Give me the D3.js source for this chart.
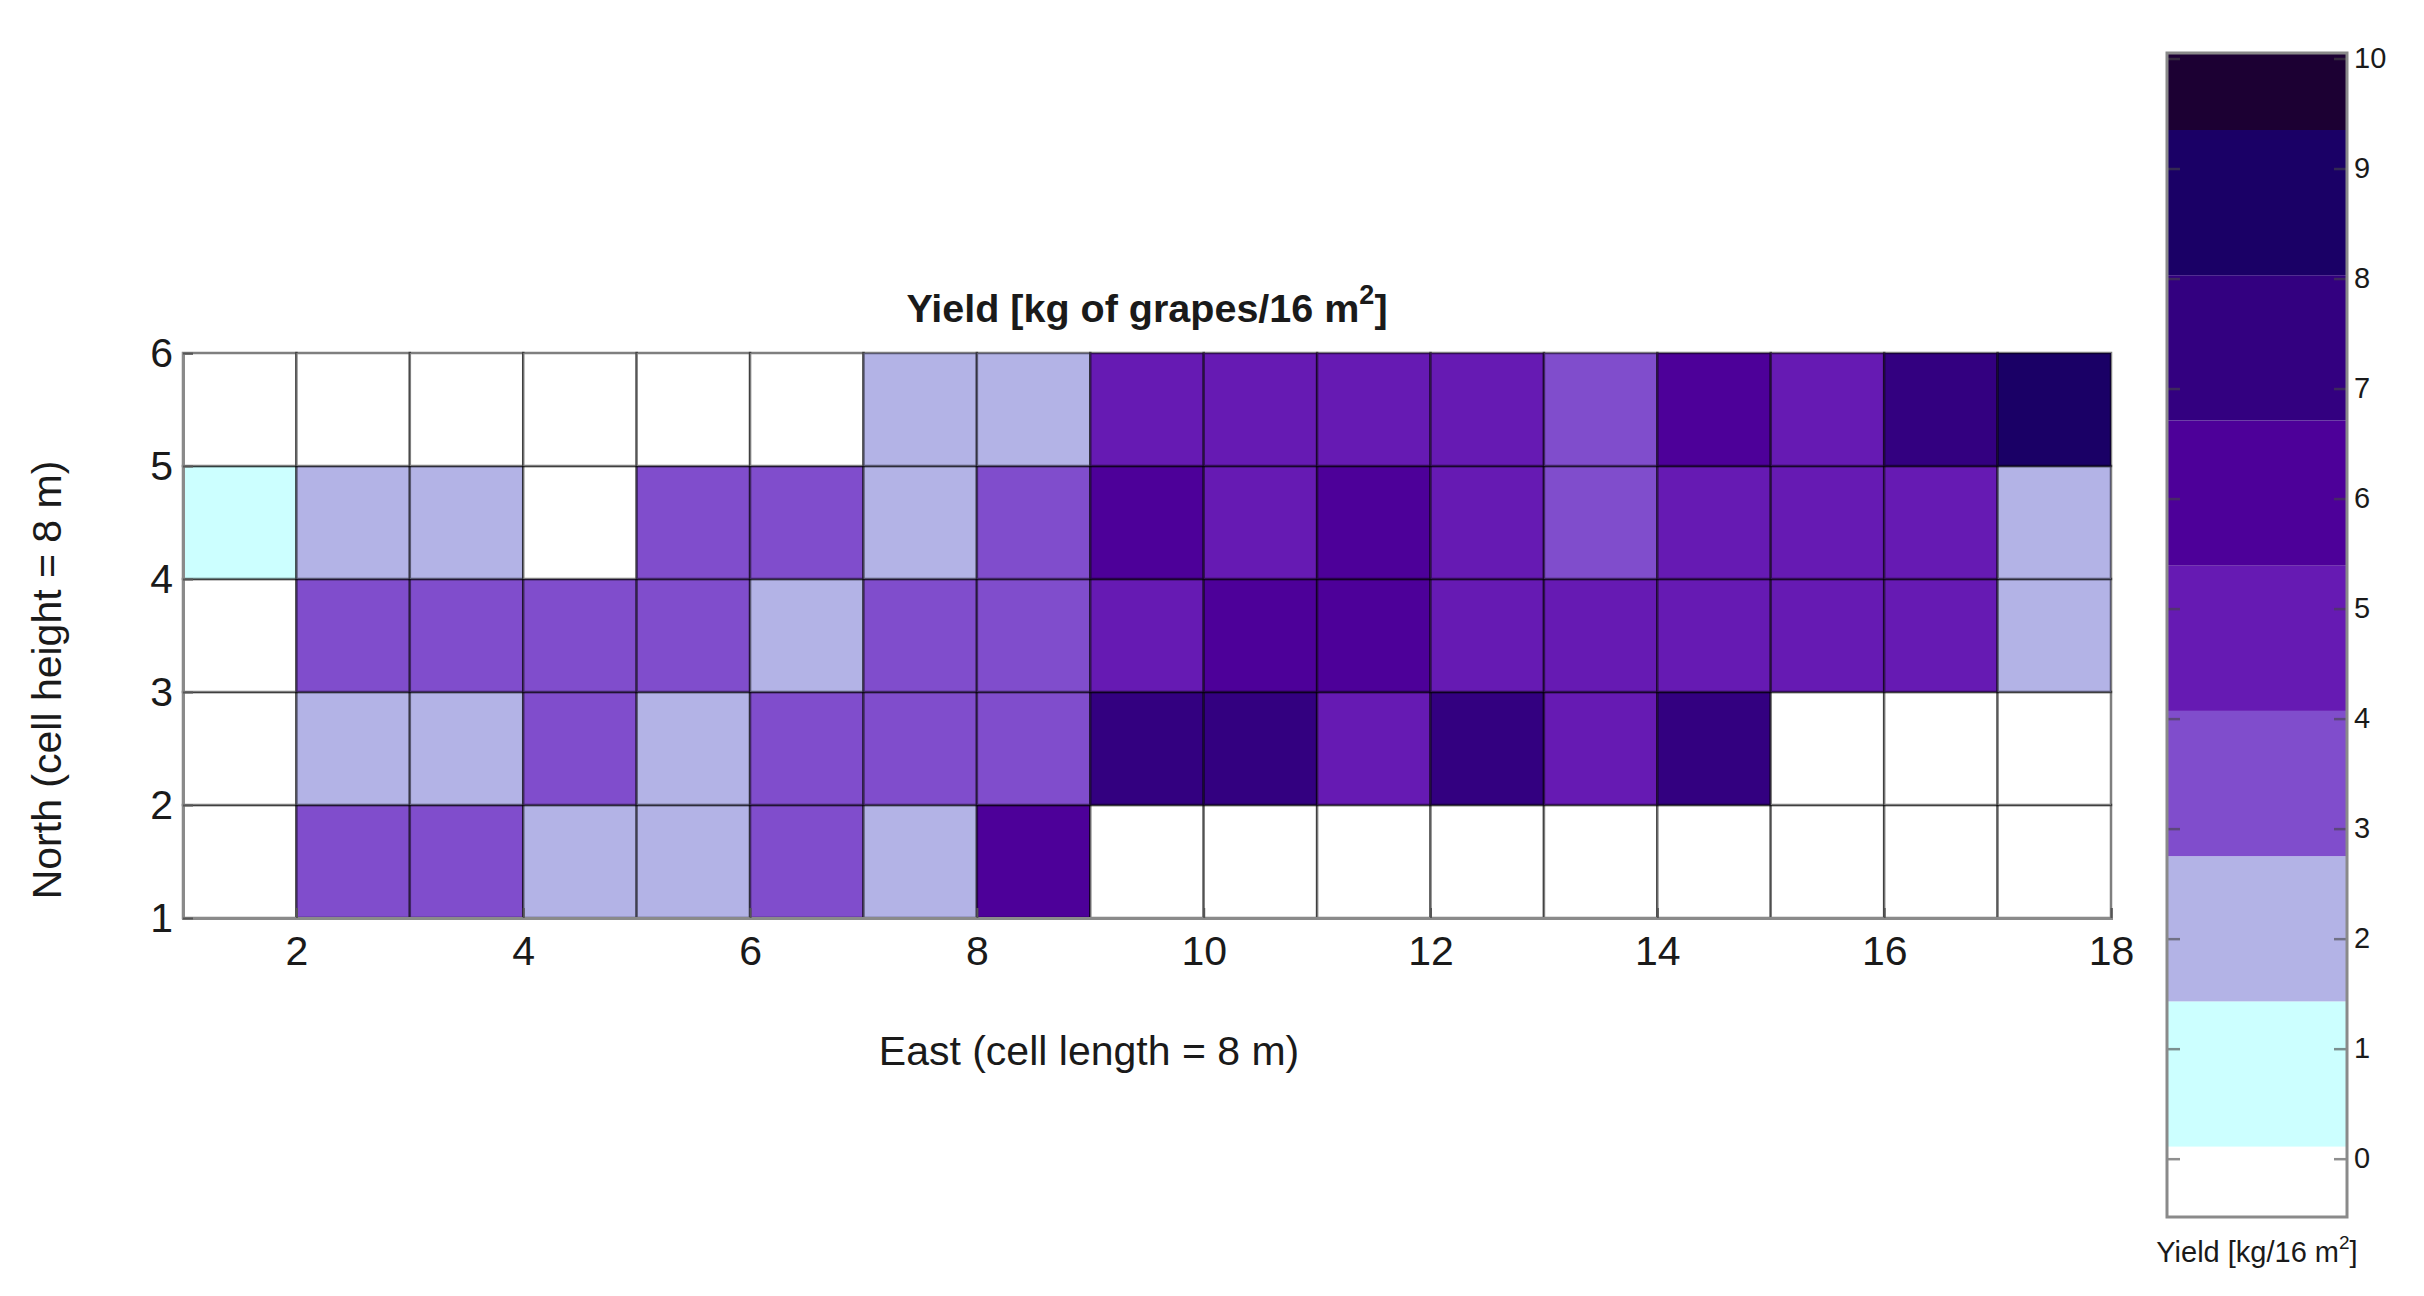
<!DOCTYPE html>
<html>
<head>
<meta charset="utf-8">
<script src="https://cdn.jsdelivr.net/npm/d3@7"></script>
<style>
  html, body { margin: 0; padding: 0; background: #ffffff; }
  svg { display: block; }
  text { font-family: "Liberation Sans", Arial, Helvetica, sans-serif; fill: #1a1a1a; }
</style>
</head>
<body>
<svg id="chart" width="2424" height="1296"></svg>
<script>
// ---------- data ----------
// East coordinate of each cell's left edge (cells span x .. x+1)
const eastCells = [1, 2, 3, 4, 5, 6, 7, 8, 9, 10, 11, 12, 13, 14, 15, 16, 17];
// North coordinate of each row's lower edge (rows span y .. y+1)
const northRows = [1, 2, 3, 4, 5];
// Yield per cell [kg of grapes / 16 m²], one array per row (south to north)
const yieldRow1 = [0, 3.4, 3.4, 2, 2, 3.4, 2, 6, 0, 0, 0, 0, 0, 0, 0, 0, 0];
const yieldRow2 = [0, 2, 2, 3.4, 2, 3.4, 3.4, 3.4, 7.4, 7.4, 4.7, 7.4, 4.7, 7.4, 0, 0, 0];
const yieldRow3 = [0, 3.4, 3.4, 3.4, 3.4, 2, 3.4, 3.4, 4.7, 6, 6, 4.7, 4.7, 4.7, 4.7, 4.7, 2];
const yieldRow4 = [1, 2, 2, 0, 3.4, 3.4, 2, 3.4, 6, 4.7, 6, 4.7, 3.4, 4.7, 4.7, 4.7, 2];
const yieldRow5 = [0, 0, 0, 0, 0, 0, 2, 2, 4.7, 4.7, 4.7, 4.7, 3.4, 6, 4.7, 7.4, 8.7];
const yieldRows = [yieldRow1, yieldRow2, yieldRow3, yieldRow4, yieldRow5];

// colour classes (colormap band edges) and colours
const bandEdges = [0.11, 1.43, 2.75, 4.07, 5.39, 6.71, 8.03, 9.35];
const bandColors = ["#ffffff", "#ccffff", "#b3b3e6", "#804dcc", "#661ab3", "#4d0099", "#330080", "#1a0066", "#1c0033"];

// tick labels
const xTicks = [2, 4, 6, 8, 10, 12, 14, 16, 18];
const yTicks = [1, 2, 3, 4, 5, 6];
const cbTicks = [0, 1, 2, 3, 4, 5, 6, 7, 8, 9, 10];

const titleText = "Yield [kg of grapes/16 m";
const xLabelText = "East (cell length = 8 m)";
const yLabelText = "North (cell height = 8 m)";
const cbLabelText = "Yield [kg/16 m";

// ---------- layout ----------
const svg = d3.select("#chart");
const plot = { left: 183, right: 2111, top: 353, bottom: 918 };
const cb = { left: 2167, right: 2347, top: 53, bottom: 1217 };

const x = d3.scaleLinear().domain([1, 18]).range([plot.left, plot.right]);
const y = d3.scaleLinear().domain([1, 6]).range([plot.bottom, plot.top]);
const color = d3.scaleThreshold().domain(bandEdges).range(bandColors);

// ---------- cells ----------
const cells = [];
northRows.forEach((n, ri) => {
  eastCells.forEach((e, ci) => {
    cells.push({ e: e, n: n, v: yieldRows[ri][ci] });
  });
});

svg.append("g")
  .selectAll("rect")
  .data(cells)
  .join("rect")
  .attr("x", d => x(d.e))
  .attr("y", d => y(d.n + 1))
  .attr("width", d => x(d.e + 1) - x(d.e))
  .attr("height", d => y(d.n) - y(d.n + 1))
  .attr("fill", d => color(d.v))
  .attr("stroke", "#000")
  .attr("stroke-opacity", 0.5)
  .attr("stroke-width", 2.5);

// ---------- axes ----------
const axisFont = 41;
const xAxis = svg.append("g")
  .attr("transform", `translate(0,${plot.bottom})`)
  .call(d3.axisBottom(x).tickValues(xTicks).tickFormat(d3.format("d")).tickSize(-10).tickPadding(18));
const yAxis = svg.append("g")
  .attr("transform", `translate(${plot.left},0)`)
  .call(d3.axisLeft(y).tickValues(yTicks).tickFormat(d3.format("d")).tickSize(-10).tickPadding(10));

[xAxis, yAxis].forEach(g => {
  g.selectAll(".domain").attr("stroke", "#8a8a8a").attr("stroke-width", 3);
  g.selectAll(".tick line").attr("stroke", "#555").attr("stroke-width", 2);
  g.selectAll(".tick text").attr("font-size", axisFont).attr("fill", "#1a1a1a")
    .style("font-family", '"Liberation Sans", Arial, sans-serif');
});

// ---------- titles ----------
const title = svg.append("text")
  .attr("x", (plot.left + plot.right) / 2)
  .attr("y", 322)
  .attr("text-anchor", "middle")
  .attr("font-size", 39.5)
  .attr("font-weight", "bold");
title.append("tspan").text(titleText);
title.append("tspan").attr("dy", -18).attr("font-size", 27).text("2");
title.append("tspan").attr("dy", 18).text("]");

svg.append("text")
  .attr("x", 1089)
  .attr("y", 1065)
  .attr("text-anchor", "middle")
  .attr("font-size", axisFont)
  .text(xLabelText);

svg.append("text")
  .attr("transform", `translate(61,680) rotate(-90)`)
  .attr("text-anchor", "middle")
  .attr("font-size", axisFont)
  .text(yLabelText);

// ---------- colour bar ----------
const cbY = d3.scaleLinear().domain([-0.53, 10.05]).range([cb.bottom, cb.top]);
const cbDomain = cbY.domain();
const bandStarts = [cbDomain[0]].concat(bandEdges);
const bandEnds = bandEdges.concat([cbDomain[1]]);
const bands = bandStarts.map((s, i) => ({ lo: s, hi: bandEnds[i], c: bandColors[i] }));

svg.append("g")
  .selectAll("rect")
  .data(bands)
  .join("rect")
  .attr("x", cb.left)
  .attr("y", d => cbY(d.hi))
  .attr("width", cb.right - cb.left)
  .attr("height", d => cbY(d.lo) - cbY(d.hi))
  .attr("fill", d => d.c);

const cbRight = svg.append("g")
  .attr("transform", `translate(${cb.right},0)`)
  .call(d3.axisRight(cbY).tickValues(cbTicks).tickFormat(d3.format("d")).tickSize(-13).tickPadding(7));
const cbLeft = svg.append("g")
  .attr("transform", `translate(${cb.left},0)`)
  .call(d3.axisLeft(cbY).tickValues(cbTicks).tickFormat("").tickSize(-13));
[cbRight, cbLeft].forEach(g => {
  g.selectAll(".domain").remove();
  g.selectAll(".tick line").attr("stroke", "#444").attr("stroke-opacity", 0.6).attr("stroke-width", 2.5);
});
cbRight.selectAll(".tick text").attr("font-size", 29).attr("fill", "#1a1a1a")
  .style("font-family", '"Liberation Sans", Arial, sans-serif');

svg.append("rect")
  .attr("x", cb.left).attr("y", cb.top)
  .attr("width", cb.right - cb.left).attr("height", cb.bottom - cb.top)
  .attr("fill", "none").attr("stroke", "#8a8a8a").attr("stroke-width", 3);

const cbLabel = svg.append("text")
  .attr("x", (cb.left + cb.right) / 2)
  .attr("y", 1262)
  .attr("text-anchor", "middle")
  .attr("font-size", 29);
cbLabel.append("tspan").text(cbLabelText);
cbLabel.append("tspan").attr("dy", -13).attr("font-size", 19).text("2");
cbLabel.append("tspan").attr("dy", 13).text("]");
</script>
</body>
</html>
